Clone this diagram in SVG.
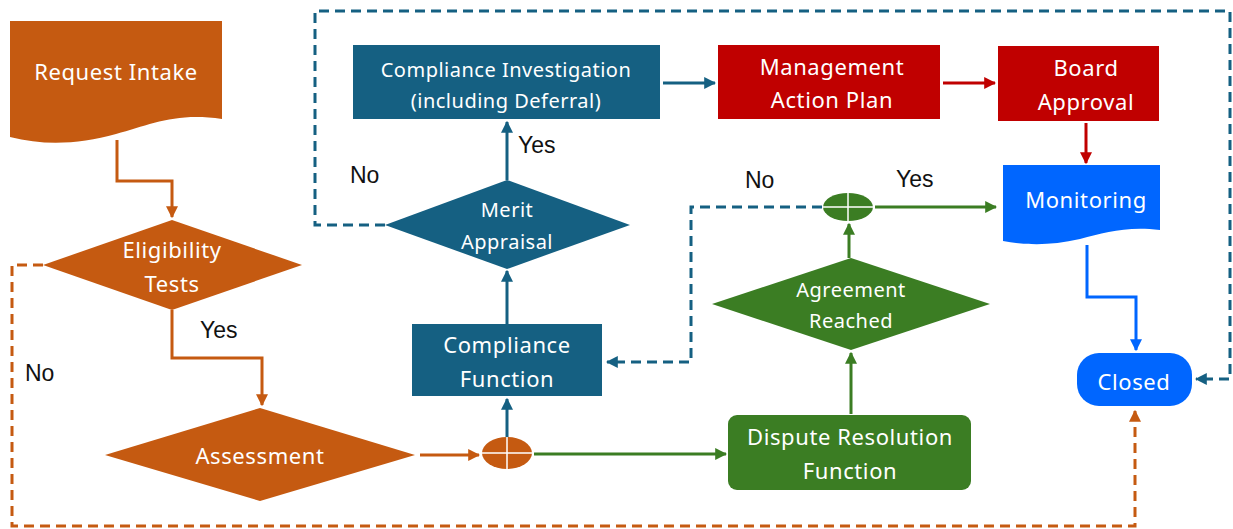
<svg xmlns="http://www.w3.org/2000/svg" width="1233" height="529" viewBox="0 0 1233 529">
  <style>
    .lbl { font-family: "Noto Sans", "Open Sans", sans-serif; font-size: 22px; letter-spacing: 0.6px; fill: #ffffff; text-anchor: middle; }
    .sm { font-size: 20px; letter-spacing: 0.5px; }
    .note { font-family: "Liberation Sans", Arial, sans-serif; font-size: 23px; fill: #111111; }
    .ln { fill: none; stroke-width: 3; }
    .dash { stroke-dasharray: 10 6; }
    .or { stroke: #C55A11; }
    .tl { stroke: #156082; }
    .rd { stroke: #C00000; }
    .gr { stroke: #3B7D23; }
    .bl { stroke: #0066FF; }
  </style>
  <defs>
    <marker id="aOr" viewBox="0 0 10 10" refX="9" refY="5" markerWidth="12" markerHeight="12" markerUnits="userSpaceOnUse" orient="auto"><path d="M0,0 L10,5 L0,10 Z" fill="#C55A11"/></marker>
    <marker id="aTl" viewBox="0 0 10 10" refX="9" refY="5" markerWidth="12" markerHeight="12" markerUnits="userSpaceOnUse" orient="auto"><path d="M0,0 L10,5 L0,10 Z" fill="#156082"/></marker>
    <marker id="aRd" viewBox="0 0 10 10" refX="9" refY="5" markerWidth="12" markerHeight="12" markerUnits="userSpaceOnUse" orient="auto"><path d="M0,0 L10,5 L0,10 Z" fill="#C00000"/></marker>
    <marker id="aGr" viewBox="0 0 10 10" refX="9" refY="5" markerWidth="12" markerHeight="12" markerUnits="userSpaceOnUse" orient="auto"><path d="M0,0 L10,5 L0,10 Z" fill="#3B7D23"/></marker>
    <marker id="aBl" viewBox="0 0 10 10" refX="9" refY="5" markerWidth="12" markerHeight="12" markerUnits="userSpaceOnUse" orient="auto"><path d="M0,0 L10,5 L0,10 Z" fill="#0066FF"/></marker>
  </defs>

  <!-- connectors -->
  <g id="connectors">
    <path class="ln or" d="M117,140 V181 H172 V217" marker-end="url(#aOr)"/>
    <path class="ln or" d="M172,310 V358 H262 V405" marker-end="url(#aOr)"/>
    <path class="ln or dash" d="M43,265 H12 V526 H1135 V411" marker-end="url(#aOr)"/>
    <path class="ln or" d="M420,455 H479" marker-end="url(#aOr)"/>
    <path class="ln tl" d="M507,437 V399" marker-end="url(#aTl)"/>
    <path class="ln gr" d="M534,454 H726" marker-end="url(#aGr)"/>
    <path class="ln gr" d="M851,414 V353" marker-end="url(#aGr)"/>
    <path class="ln gr" d="M849,258 V224" marker-end="url(#aGr)"/>
    <path class="ln gr" d="M875,207 H996" marker-end="url(#aGr)"/>
    <path class="ln tl dash" d="M822,207 H691 V362 H607" marker-end="url(#aTl)"/>
    <path class="ln tl" d="M507,324 V271" marker-end="url(#aTl)"/>
    <path class="ln tl" d="M507,180 V122" marker-end="url(#aTl)"/>
    <path class="ln tl dash" d="M385,225 H315 V11 H1230 V379 H1196" marker-end="url(#aTl)"/>
    <path class="ln tl" d="M663,83 H715" marker-end="url(#aTl)"/>
    <path class="ln rd" d="M943,83 H995" marker-end="url(#aRd)"/>
    <path class="ln rd" d="M1086,123 V163" marker-end="url(#aRd)"/>
    <path class="ln bl" d="M1087,245 V297 H1136 V350" marker-end="url(#aBl)"/>
  </g>

  <!-- nodes -->
  <g id="request-intake">
    <path d="M10,21 H222 V119 C175,112 150,125 116,134 C80,144 45,146 10,137 Z" fill="#C55A11"/>
    <text class="lbl" x="116" y="80">Request Intake</text>
  </g>

  <g id="eligibility-tests">
    <polygon points="172,220 302,265 172,310 43,265" fill="#C55A11"/>
    <text class="lbl" x="172" y="258">Eligibility</text>
    <text class="lbl" x="172" y="292">Tests</text>
  </g>

  <g id="assessment">
    <polygon points="260,408 415,455 260,501 105,455" fill="#C55A11"/>
    <text class="lbl" x="260" y="464">Assessment</text>
  </g>

  <g id="split-orange">
    <ellipse cx="507" cy="453" rx="25" ry="16" fill="#C55A11"/>
    <path d="M482,453 H532 M507,437 V469" stroke="#ffffff" stroke-width="1.5"/>
  </g>

  <g id="compliance-function">
    <rect x="412" y="324" width="190" height="72" fill="#156082"/>
    <text class="lbl" x="507" y="353">Compliance</text>
    <text class="lbl" x="507" y="387">Function</text>
  </g>

  <g id="merit-appraisal">
    <polygon points="507,180 630,225 507,269 385,225" fill="#156082"/>
    <text class="lbl sm" x="507" y="217">Merit</text>
    <text class="lbl sm" x="507" y="249">Appraisal</text>
  </g>

  <g id="compliance-investigation">
    <rect x="353" y="45" width="307" height="74" fill="#156082"/>
    <text class="lbl sm" x="506" y="77">Compliance Investigation</text>
    <text class="lbl sm" x="506" y="108">(including Deferral)</text>
  </g>

  <g id="management-action-plan">
    <rect x="718" y="45" width="222" height="74" fill="#C00000"/>
    <text class="lbl" x="832" y="75">Management</text>
    <text class="lbl" x="832" y="108">Action Plan</text>
  </g>

  <g id="board-approval">
    <rect x="998" y="46" width="161" height="75" fill="#C00000"/>
    <text class="lbl" x="1086" y="76">Board</text>
    <text class="lbl" x="1086" y="110">Approval</text>
  </g>

  <g id="monitoring">
    <path d="M1003,165 H1160 V230 C1125,226 1105,233 1080,239 C1050,246 1025,245 1003,241 Z" fill="#0066FF"/>
    <text class="lbl" x="1086" y="208">Monitoring</text>
  </g>

  <g id="closed">
    <rect x="1077" y="353" width="115" height="53" rx="22" fill="#0066FF"/>
    <text class="lbl" x="1134" y="390">Closed</text>
  </g>

  <g id="dispute-resolution">
    <rect x="728" y="415" width="243" height="75" rx="9" fill="#3B7D23"/>
    <text class="lbl" x="850" y="445">Dispute Resolution</text>
    <text class="lbl" x="850" y="479">Function</text>
  </g>

  <g id="agreement-reached">
    <polygon points="851,258 990,304 851,350 712,304" fill="#3B7D23"/>
    <text class="lbl sm" x="851" y="297">Agreement</text>
    <text class="lbl sm" x="851" y="328">Reached</text>
  </g>

  <g id="merge-green">
    <ellipse cx="848" cy="207" rx="25" ry="14" fill="#3B7D23"/>
    <path d="M823,207 H873 M848,193 V221" stroke="#ffffff" stroke-width="1.5"/>
  </g>

  <!-- branch labels -->
  <g id="labels">
    <text class="note" x="200" y="338">Yes</text>
    <text class="note" x="25" y="381">No</text>
    <text class="note" x="518" y="153">Yes</text>
    <text class="note" x="350" y="183">No</text>
    <text class="note" x="745" y="188">No</text>
    <text class="note" x="896" y="187">Yes</text>
  </g>
</svg>
